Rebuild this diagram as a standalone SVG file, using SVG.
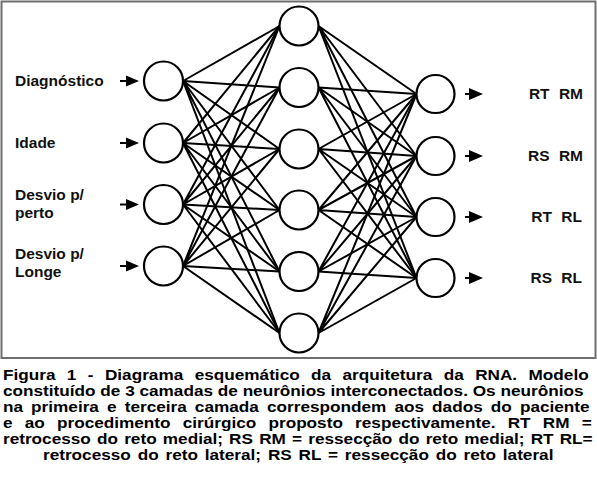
<svg xmlns="http://www.w3.org/2000/svg" width="597" height="480" viewBox="0 0 597 480">
<style>
.node{fill:#fff;stroke:#000;stroke-width:2.2}
.edge{fill:none;stroke:#000;stroke-width:2}
.stem{stroke:#000;stroke-width:2}
.head{fill:#000}
.lbl{font-family:"Liberation Sans",Arial,sans-serif;font-weight:bold;font-size:15.5px;fill:#111}
.cap{font-family:"Liberation Sans",Arial,sans-serif;font-weight:bold;font-size:15px;fill:#000}
</style>
<rect x="1.5" y="1.5" width="594" height="356.5" fill="#fff" stroke="#6e6e6e" stroke-width="2"/>
<g id="connectors">
<path class="edge" d="M183 81L279.5 26M183 81L279.5 87.5M183 81L279.5 149M183 81L279.5 210M183 81L279.5 271.5M183 81L279.5 333"/>
<path class="edge" d="M183 143L279.5 26M183 143L279.5 87.5M183 143L279.5 149M183 143L279.5 210M183 143L279.5 271.5M183 143L279.5 333"/>
<path class="edge" d="M183 204.5L279.5 26M183 204.5L279.5 87.5M183 204.5L279.5 149M183 204.5L279.5 210M183 204.5L279.5 271.5M183 204.5L279.5 333"/>
<path class="edge" d="M183 266L279.5 26M183 266L279.5 87.5M183 266L279.5 149M183 266L279.5 210M183 266L279.5 271.5M183 266L279.5 333"/>
<path class="edge" d="M318.5 26L416.5 94M318.5 26L416.5 156M318.5 26L416.5 217M318.5 26L416.5 278"/>
<path class="edge" d="M318.5 87.5L416.5 94M318.5 87.5L416.5 156M318.5 87.5L416.5 217M318.5 87.5L416.5 278"/>
<path class="edge" d="M318.5 149L416.5 94M318.5 149L416.5 156M318.5 149L416.5 217M318.5 149L416.5 278"/>
<path class="edge" d="M318.5 210L416.5 94M318.5 210L416.5 156M318.5 210L416.5 217M318.5 210L416.5 278"/>
<path class="edge" d="M318.5 271.5L416.5 94M318.5 271.5L416.5 156M318.5 271.5L416.5 217M318.5 271.5L416.5 278"/>
<path class="edge" d="M318.5 333L416.5 94M318.5 333L416.5 156M318.5 333L416.5 217M318.5 333L416.5 278"/>
<path class="stem" d="M120 81H128M120 143H128M120 204.5H128M120 266H128M465 94H471M465 156H471M465 217H471M465 278H471"/>
<path class="head" d="M126 75.5L139 81L126 86.5ZM126 137.5L139 143L126 148.5ZM126 199L139 204.5L126 210ZM126 260.5L139 266L126 271.5ZM469 88L483 94L469 100ZM469 150L483 156L469 162ZM469 211L483 217L469 223ZM469 272L483 278L469 284Z"/>
</g>
<g id="in1"><circle class="node" cx="163.5" cy="81" r="19.5"/><text class="lbl" x="15" y="86">Diagnóstico</text></g>
<g id="in2"><circle class="node" cx="163.5" cy="143" r="19.5"/><text class="lbl" x="15" y="148">Idade</text></g>
<g id="in3"><circle class="node" cx="163.5" cy="204.5" r="19.5"/><text class="lbl" x="15" y="200">Desvio p/</text><text class="lbl" x="15" y="218">perto</text></g>
<g id="in4"><circle class="node" cx="163.5" cy="266" r="19.5"/><text class="lbl" x="15" y="259">Desvio p/</text><text class="lbl" x="15" y="277">Longe</text></g>
<g id="h1"><circle class="node" cx="299" cy="26" r="19.5"/></g>
<g id="h2"><circle class="node" cx="299" cy="87.5" r="19.5"/></g>
<g id="h3"><circle class="node" cx="299" cy="149" r="19.5"/></g>
<g id="h4"><circle class="node" cx="299" cy="210" r="19.5"/></g>
<g id="h5"><circle class="node" cx="299" cy="271.5" r="19.5"/></g>
<g id="h6"><circle class="node" cx="299" cy="333" r="19.5"/></g>
<g id="out1"><circle class="node" cx="435.5" cy="94" r="19"/><text class="lbl" x="583" y="99" text-anchor="end" word-spacing="5">RT RM</text></g>
<g id="out2"><circle class="node" cx="435.5" cy="156" r="19"/><text class="lbl" x="583" y="161" text-anchor="end" word-spacing="5">RS RM</text></g>
<g id="out3"><circle class="node" cx="435.5" cy="217" r="19"/><text class="lbl" x="582" y="222" text-anchor="end" word-spacing="5">RT RL</text></g>
<g id="out4"><circle class="node" cx="435.5" cy="278" r="19"/><text class="lbl" x="582" y="283" text-anchor="end" word-spacing="5">RS RL</text></g>
<g id="caption" transform="scale(1.146,1)">
<text class="cap" x="2.6" y="380" word-spacing="5.78">Figura 1 - Diagrama esquemático da arquitetura da RNA. Modelo</text>
<text class="cap" x="2.6" y="396">constituído de 3 camadas de neurônios interconectados. Os neurônios</text>
<text class="cap" x="2.6" y="412" word-spacing="2.9">na primeira e terceira camada correspondem aos dados do paciente</text>
<text class="cap" x="2.6" y="428" word-spacing="6.47">e ao procedimento cirúrgico proposto respectivamente. RT RM =</text>
<text class="cap" x="2.6" y="444" word-spacing="1.22">retrocesso do reto medial; RS RM = ressecção do reto medial; RT RL=</text>
<text class="cap" x="37.5" y="460" word-spacing="1.78">retrocesso do reto lateral; RS RL = ressecção do reto lateral</text>
</g>
</svg>
